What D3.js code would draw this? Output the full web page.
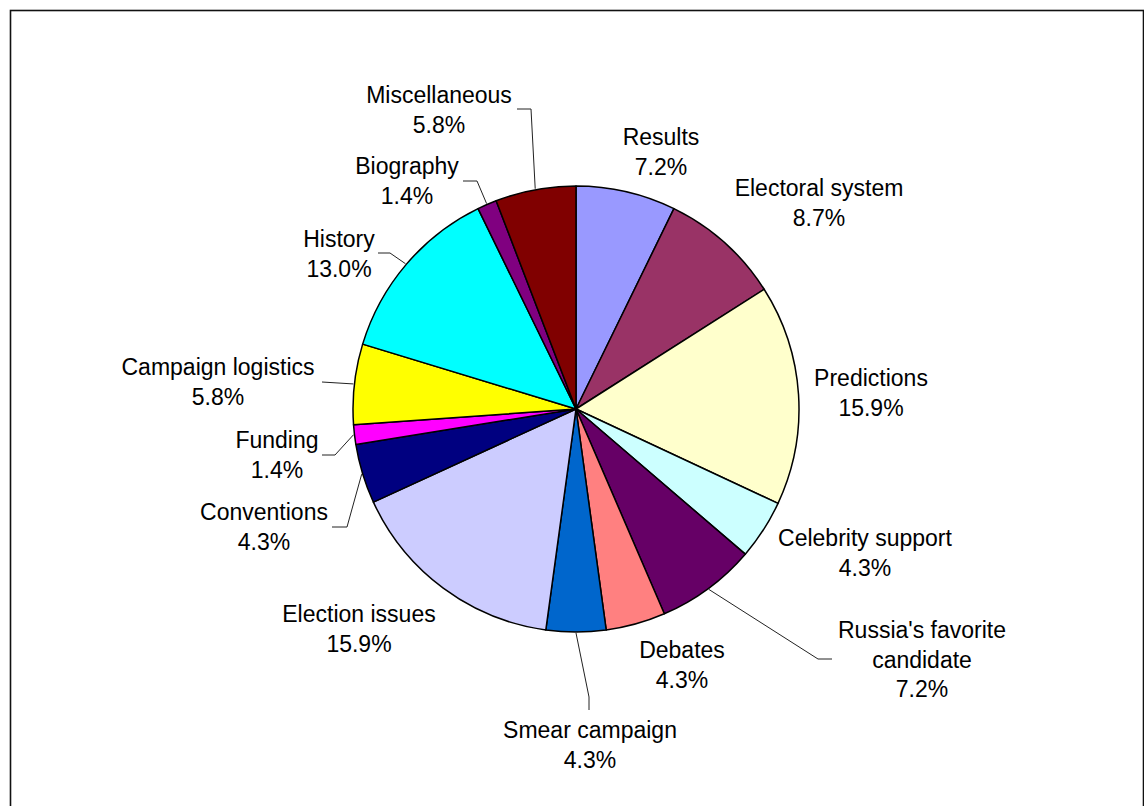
<!DOCTYPE html>
<html>
<head>
<meta charset="utf-8">
<script src="https://cdn.jsdelivr.net/npm/d3@7"></script>
<style>
  html, body { margin: 0; padding: 0; background: #fff; }
  svg { display: block; }
  text { font-family: "Liberation Sans", Arial, sans-serif; font-size: 23px; fill: #000; }
</style>
</head>
<body>
<svg id="chart" width="1144" height="806"></svg>
<script>
// Topics, clockwise from 12 o'clock
const categories = [
  "Results", "Electoral system", "Predictions", "Celebrity support",
  "Russia's favorite candidate", "Debates", "Smear campaign", "Election issues",
  "Conventions", "Funding", "Campaign logistics", "History", "Biography", "Miscellaneous"
];
// Share of items per topic (%)
const shares = [7.2, 8.7, 15.9, 4.3, 7.2, 4.3, 4.3, 15.9, 4.3, 1.4, 5.8, 13.0, 1.4, 5.8];
// Label text lines (category name may wrap)
const labelLines = [
  ["Results"], ["Electoral system"], ["Predictions"], ["Celebrity support"],
  ["Russia's favorite", "candidate"], ["Debates"], ["Smear campaign"], ["Election issues"],
  ["Conventions"], ["Funding"], ["Campaign logistics"], ["History"], ["Biography"], ["Miscellaneous"]
];
const colors = [
  "#9999FF", "#993366", "#FFFFCC", "#CCFFFF", "#660066", "#FF8080", "#0066CC",
  "#CCCCFF", "#000080", "#FF00FF", "#FFFF00", "#00FFFF", "#800080", "#800000"
];

// Layout: label anchor (centre x, first baseline) and optional leader-line path
// (elbow points from the slice edge towards the label).
const labelLayout = [
  { x: 661, y: 145 },
  { x: 819, y: 196 },
  { x: 871, y: 386 },
  { x: 865, y: 546 },
  { x: 922, y: 638, leader: [[818, 659], [832, 659]] },
  { x: 682, y: 658 },
  { x: 590, y: 738, leader: [[589, 697], [589, 710]] },
  { x: 359, y: 622 },
  { x: 264, y: 520, leader: [[347, 527], [332, 527]] },
  { x: 277, y: 448, leader: [[335, 455], [322, 455]] },
  { x: 218, y: 375, leader: [[322, 382]] },
  { x: 339, y: 247, leader: [[390, 253], [378, 253]] },
  { x: 407, y: 174, leader: [[477, 181], [463, 181]] },
  { x: 439, y: 103, leader: [[531, 109], [517, 109]] }
];

const W = 1144, H = 806;
const cx = 576, cy = 409, R = 223;
const lineGap = 29.5;

const svg = d3.select("#chart");

// Chart area frame
svg.append("rect")
  .attr("x", 10.5).attr("y", 10.5)
  .attr("width", 1133).attr("height", 830)
  .attr("fill", "#fff")
  .attr("stroke", "#111").attr("stroke-width", 1.6);

const data = categories.map((c, i) => ({
  name: c, value: shares[i], color: colors[i], lines: labelLines[i], layout: labelLayout[i]
}));

const pie = d3.pie().value(d => d.value).sort(null).startAngle(0).endAngle(2 * Math.PI);
const arcs = pie(data);
const arc = d3.arc().innerRadius(0).outerRadius(R);

const g = svg.append("g").attr("transform", `translate(${cx},${cy})`);

g.selectAll("path.slice")
  .data(arcs)
  .join("path")
  .attr("class", "slice")
  .attr("d", arc)
  .attr("fill", d => d.data.color)
  .attr("stroke", "#000")
  .attr("stroke-width", 1.5)
  .attr("stroke-linejoin", "round");

// Leader lines: from the slice's outer edge at its mid-angle, through the elbow points
const line = d3.line();
svg.selectAll("path.leader")
  .data(arcs.filter(d => d.data.layout.leader))
  .join("path")
  .attr("class", "leader")
  .attr("fill", "none")
  .attr("stroke", "#222")
  .attr("stroke-width", 1)
  .attr("d", d => {
    const a = (d.startAngle + d.endAngle) / 2;
    const start = [cx + (R + 1) * Math.sin(a), cy - (R + 1) * Math.cos(a)];
    return line([start, ...d.data.layout.leader]);
  });

// Data labels: category name + percentage
const fmt = d3.format(".1f");
const labels = svg.selectAll("text.label")
  .data(arcs)
  .join("text")
  .attr("class", "label")
  .attr("text-anchor", "middle")
  .attr("x", d => d.data.layout.x)
  .attr("y", d => d.data.layout.y);

labels.each(function(d) {
  const t = d3.select(this);
  const lines = [...d.data.lines, fmt(d.data.value) + "%"];
  lines.forEach((s, i) => {
    t.append("tspan")
      .attr("x", d.data.layout.x)
      .attr("y", d.data.layout.y + i * lineGap)
      .text(s);
  });
});
</script>
</body>
</html>
